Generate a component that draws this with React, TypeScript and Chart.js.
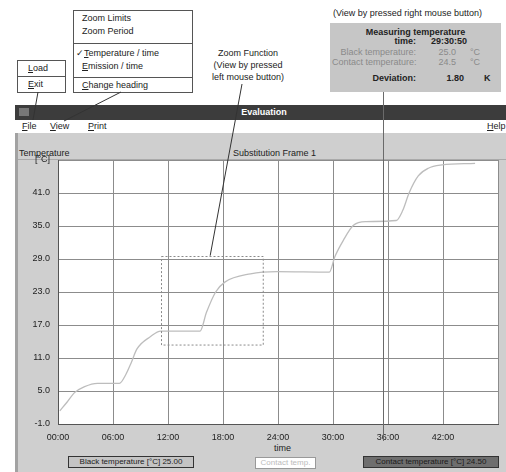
import React, { useEffect, useRef } from "react";
import { Chart, registerables } from "chart.js";
Chart.register(...registerables);

// ---- data ----
const hours = [0.2, 1.0, 1.8, 2.9, 4.3, 6.7, 7.4, 8.0, 8.6, 10.1, 11.2, 15.5, 16.2, 17.2, 18.2, 21.0, 23.9, 29.6, 30.2, 31.1, 32.2, 33.6, 36.9, 37.6, 38.3, 39.3, 40.4, 41.9, 45.5];
const blackTemp = [1.4, 3.0, 4.7, 5.8, 6.4, 6.4, 8.0, 10.2, 12.6, 14.9, 15.9, 15.9, 19.3, 23.0, 24.8, 26.3, 26.7, 26.6, 29.4, 32.3, 35.1, 35.8, 36.0, 37.8, 41.0, 44.1, 45.5, 46.1, 46.4];
const xTicks = [0, 6, 12, 18, 24, 30, 36, 42, 48];
const yTicks = [-1, 5, 11, 17, 23, 29, 35, 41, 47];
const zoomBoxX = [11.2, 22.3];
const zoomBoxY = [13.5, 29.6];
const cursorHour = 35.5;

const FONT = '"Liberation Sans", Arial, sans-serif';

const overlayPlugin = {
  id: "overlay",
  beforeDraw(chart: any) {
    const { ctx, chartArea: a } = chart;
    ctx.save();
    ctx.fillStyle = "#ffffff";
    ctx.fillRect(a.left, a.top, a.right - a.left, a.bottom - a.top);
    ctx.restore();
  },
  afterDatasetsDraw(chart: any) {
    const { ctx } = chart;
    const xs = chart.scales.x;
    const ys = chart.scales.y;
    ctx.save();
    // zoom box (dotted)
    const x0 = xs.getPixelForValue(zoomBoxX[0]);
    const x1 = xs.getPixelForValue(zoomBoxX[1]);
    const y0 = ys.getPixelForValue(zoomBoxY[0]);
    const y1 = ys.getPixelForValue(zoomBoxY[1]);
    ctx.strokeStyle = "#8a8a8a";
    ctx.lineWidth = 1;
    ctx.setLineDash([2, 2]);
    ctx.strokeRect(Math.round(x0) + 0.5, Math.round(y1) + 0.5, x1 - x0, y0 - y1);
    ctx.setLineDash([]);
    // cursor line
    const cx = Math.round(xs.getPixelForValue(cursorHour)) + 0.5;
    ctx.strokeStyle = "#6a6a6a";
    ctx.beginPath();
    ctx.moveTo(cx, 92);
    ctx.lineTo(cx, 441);
    ctx.stroke();
    // callout lines
    ctx.strokeStyle = "#333";
    ctx.beginPath();
    ctx.moveTo(242, 84);
    ctx.lineTo(xs.getPixelForValue(16.6), y1);
    ctx.moveTo(38, 92);
    ctx.lineTo(33, 120);
    ctx.moveTo(121, 92);
    ctx.lineTo(64, 121);
    ctx.stroke();
    ctx.restore();
  },
};

function ChartCanvas() {
  const ref = useRef<HTMLCanvasElement>(null);
  useEffect(() => {
    if (!ref.current) return;
    const chart = new Chart(ref.current, {
      type: "line",
      data: {
        datasets: [
          {
            label: "Black temperature",
            data: hours.map((h, i) => ({ x: h, y: blackTemp[i] })),
            borderColor: "#bdbdbd",
            borderWidth: 1.3,
            pointRadius: 0,
            cubicInterpolationMode: "monotone",
            fill: false,
          },
        ],
      },
      options: {
        animation: false,
        responsive: false,
        maintainAspectRatio: false,
        events: [],
        layout: { padding: { left: 0, top: 160, right: 4, bottom: 0 } },
        plugins: { legend: { display: false }, tooltip: { enabled: false } },
        scales: {
          x: {
            type: "linear",
            min: 0,
            max: 48,
            afterBuildTicks: (s: any) => {
              s.ticks = xTicks.map((v) => ({ value: v }));
            },
            afterFit: (s: any) => {
              s.height = 48;
            },
            grid: { color: "#8c8c8c", drawTicks: false, lineWidth: 1 },
            border: { display: true, color: "#555" },
            ticks: {
              padding: 8,
              maxRotation: 0,
              autoSkip: false,
              color: "#222",
              font: { family: FONT, size: 9 },
              callback: (v: any) => (v === 48 ? "" : String(v).padStart(2, "0") + ":00"),
            },
          },
          y: {
            type: "linear",
            min: -1,
            max: 47,
            afterBuildTicks: (s: any) => {
              s.ticks = yTicks.map((v) => ({ value: v }));
            },
            afterFit: (s: any) => {
              s.width = 58;
            },
            grid: { color: "#8c8c8c", drawTicks: false, lineWidth: 1 },
            border: { display: true, color: "#555" },
            ticks: {
              padding: 8,
              autoSkip: false,
              color: "#222",
              font: { family: FONT, size: 9 },
              callback: (v: any) => (v === 47 ? "[°C]" : Number(v).toFixed(1)),
            },
          },
        },
      },
      plugins: [overlayPlugin],
    });
    return () => chart.destroy();
  }, []);
  return (
    <canvas
      ref={ref}
      width={506}
      height={472}
      style={{ position: "absolute", left: 0, top: 0, width: 506, height: 472, zIndex: 2, pointerEvents: "none" }}
    />
  );
}

const abs = (l: number, t: number, extra: any = {}) => ({ position: "absolute" as const, left: l, top: t, ...extra });

export default function App() {
  const txt = { fontFamily: FONT, fontSize: 9, color: "#222", whiteSpace: "nowrap" as const, lineHeight: "11px" };
  return (
    <div style={{ position: "absolute", left: 0, top: 0, width: 506, height: 472, background: "#fff", overflow: "hidden", ...txt }}>
      {/* popup menu callout */}
      <div style={abs(73, 10, { width: 118, height: 81, border: "1px solid #555", background: "#fff" })}>
        <div style={abs(8, 2)}>Zoom Limits</div>
        <div style={abs(8, 15)}>Zoom Period</div>
        <div style={abs(0, 32, { width: 118, borderTop: "1px solid #555" })} />
        <div style={abs(2, 37)}>✓<u>T</u>emperature / time</div>
        <div style={abs(8, 50)}><u>E</u>mission / time</div>
        <div style={abs(0, 66, { width: 118, borderTop: "1px solid #555" })} />
        <div style={abs(8, 69)}><u>C</u>hange heading</div>
      </div>
      {/* Load/Exit */}
      <div style={abs(17, 60, { width: 47, height: 31, border: "1px solid #555", background: "#fff" })}>
        <div style={abs(10, 2)}><u>L</u>oad</div>
        <div style={abs(0, 15, { width: 47, borderTop: "1px solid #555" })} />
        <div style={abs(10, 18)}><u>E</u>xit</div>
      </div>
      {/* zoom function note */}
      <div style={abs(198, 47, { width: 100, textAlign: "center", lineHeight: "12px" })}>
        Zoom Function<br />(View by pressed<br />left mouse button)
      </div>
      {/* right mouse note */}
      <div style={abs(333, 8)}>(View by pressed right mouse button)</div>
      <div style={abs(330, 23, { width: 171, height: 69, background: "#c6c6c6" })}>
        <div style={abs(0, 4, { width: 171, textAlign: "center", fontWeight: "bold" })}>Measuring temperature</div>
        <div style={abs(60, 13, { width: 26, textAlign: "right", fontWeight: "bold" })}>time:</div>
        <div style={abs(101, 13, { fontWeight: "bold" })}>29:30:50</div>
        <div style={abs(2, 24, { width: 84, textAlign: "right", color: "#8a8a8a" })}>Black temperature:</div>
        <div style={abs(104, 24, { width: 22, textAlign: "right", color: "#8a8a8a" })}>25.0</div>
        <div style={abs(140, 24, { color: "#8a8a8a" })}>°C</div>
        <div style={abs(2, 34, { width: 84, textAlign: "right", color: "#8a8a8a" })}>Contact temperature:</div>
        <div style={abs(104, 34, { width: 22, textAlign: "right", color: "#8a8a8a" })}>24.5</div>
        <div style={abs(140, 34, { color: "#8a8a8a" })}>°C</div>
        <div style={abs(20, 50, { width: 66, textAlign: "right", fontWeight: "bold" })}>Deviation:</div>
        <div style={abs(104, 50, { width: 30, textAlign: "right", fontWeight: "bold" })}>1.80</div>
        <div style={abs(154, 50, { fontWeight: "bold" })}>K</div>
      </div>
      {/* window title bar */}
      <div style={abs(15, 105, { width: 491, height: 15, background: "#3c3c3c" })}>
        <div style={abs(4, 3, { width: 10, height: 8, background: "#777" })} />
        <div style={abs(0, 2, { width: 498, textAlign: "center", color: "#fff", fontWeight: "bold" })}>Evaluation</div>
      </div>
      {/* menu bar */}
      <div style={abs(15, 120, { width: 491, height: 13, background: "#fff" })}>
        <div style={abs(7, 1)}><u>F</u>ile</div>
        <div style={abs(35, 1)}><u>V</u>iew</div>
        <div style={abs(73, 1)}><u>P</u>rint</div>
        <div style={abs(472, 1)}><u>H</u>elp</div>
      </div>
      {/* grey panel */}
      <div style={abs(15, 133, { width: 491, height: 339, background: "#cfcfcf", borderLeft: "3px solid #a2a2a2", boxSizing: "border-box" })}>
        <div style={abs(1, 15, {})}>Temperature</div>
        <div style={abs(215, 15)}>Substitution Frame 1</div>
        <div style={abs(0, 26, { width: 491, borderTop: "1px solid #aaa" })} />
        <div style={abs(256, 310, {})}>time</div>
        <div style={abs(50, 323, { width: 124, height: 10, border: "1px solid #333", background: "#c4c4c4", fontSize: 8, lineHeight: "10px", textAlign: "center" })}>
          Black temperature [°C] 25.00
        </div>
        <div style={abs(237, 324, { width: 59, height: 10, border: "1px solid #999", background: "#fff", color: "#bbb", fontSize: 8, lineHeight: "10px", textAlign: "center" })}>
          Contact temp.
        </div>
        <div style={abs(345, 323, { width: 134, height: 10, border: "1px solid #333", background: "#6e6e6e", color: "#1a1a1a", fontSize: 8, lineHeight: "10px", textAlign: "center" })}>
          Contact temperature [°C] 24.50
        </div>
      </div>
      <ChartCanvas />
    </div>
  );
}
